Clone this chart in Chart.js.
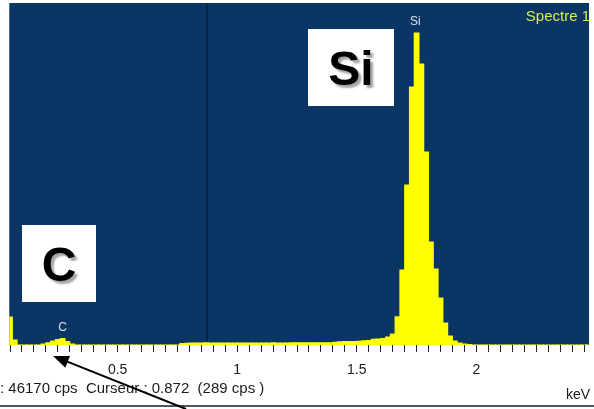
<!DOCTYPE html>
<html>
<head>
<meta charset="utf-8">
<script src="https://cdn.jsdelivr.net/npm/chart.js@4/dist/chart.umd.min.js"></script>
<style>
  html, body { margin: 0; padding: 0; background: #fff; }
  #wrap { position: relative; width: 594px; height: 409px; }
</style>
</head>
<body>
<div id="wrap"><canvas id="spectrum" width="594" height="409"></canvas></div>
<script>
// EDS spectrum, 0.02 keV channels, value = counts (cps) of the channel starting at that energy
const firstChannelKeV = 0.04;
const channelKeV = 0.02;
const counts = [
  3780, 675, 0, 0, 0, 0, 0, 135, 300, 540,            // 0.04 - 0.22
  740, 880, 470, 135, 0, 0, 0, 0, 0, 0,               // 0.24 - 0.42
  0, 0, 0, 0, 0, 0, 0, 0, 0, 0,                       // 0.44 - 0.62
  0, 0, 0, 0, 0, 0, 200, 250, 270, 260,               // 0.64 - 0.82
  280, 290, 280, 270, 260, 280, 270, 260, 270, 280,   // 0.84 - 1.02
  270, 260, 280, 270, 280, 290, 280, 270, 280, 290,   // 1.04 - 1.22
  300, 290, 300, 310, 300, 290, 300, 320, 360, 430,   // 1.24 - 1.42
  460, 470, 480, 500, 580, 620, 780, 820, 880, 1080,  // 1.44 - 1.62
  1500, 3820, 10130, 21600, 34830, 42120, 37940, 26060, 13900, 10260, // 1.64 - 1.82
  6350, 2970, 1220, 540, 270, 135, 60, 0, 0, 0,       // 1.84 - 2.02
  0, 0, 0, 0, 0, 0, 0, 0, 0, 0,                       // 2.04 - 2.22
  0, 0, 0, 0, 0, 0, 0, 0, 0, 0,                       // 2.24 - 2.42
  0, 0                                                // 2.44 - 2.46
];

const tickValues = [0.5, 1, 1.5, 2];
const tickLabels = ['0.5', '1', '1.5', '2'];
const minorTickKeV = 0.05;

const peakNames = ['C', 'Si'];
const peakKeV = [0.27, 1.745];

const spectrumName = 'Spectre 1';
const fullScaleCps = 46170;
const cursorKeV = 0.872;
const cursorCps = 289;

const xMin = 0.047;
const xMax = 2.471;

// bars sit on the channel centres
const points = counts.map((c, i) => ({ x: firstChannelKeV + (i + 0.5) * channelKeV, y: c }));

function countAt(keV) {
  const i = Math.floor((keV - firstChannelKeV) / channelKeV + 1e-9);
  return counts[i] || 0;
}

const overlay = {
  id: 'overlay',
  beforeDraw(chart) {
    const { ctx, chartArea: a } = chart;
    ctx.save();
    ctx.fillStyle = '#ffffff';
    ctx.fillRect(0, 0, chart.width, chart.height);
    ctx.fillStyle = '#0a3565';
    ctx.fillRect(a.left, a.top, a.right - a.left, a.bottom - a.top);
    // cursor line
    const cx = Math.round(chart.scales.x.getPixelForValue(cursorKeV));
    ctx.fillStyle = '#05244a';
    ctx.fillRect(cx - 1, a.top, 2, a.bottom - a.top);
    ctx.restore();
  },
  afterDraw(chart) {
    const { ctx } = chart;
    const xs = chart.scales.x, ys = chart.scales.y;
    ctx.save();

    // element labels above their peaks
    ctx.font = '12px "Liberation Sans", Arial, sans-serif';
    ctx.fillStyle = '#d8e0ee';
    ctx.textAlign = 'center';
    ctx.textBaseline = 'bottom';
    peakNames.forEach((name, i) => {
      const px = xs.getPixelForValue(peakKeV[i]);
      const py = ys.getPixelForValue(countAt(peakKeV[i])) - 5;
      ctx.fillText(name, px, py);
    });

    // spectrum name
    ctx.font = '15px "Liberation Sans", Arial, sans-serif';
    ctx.fillStyle = '#dcec50';
    ctx.textAlign = 'right';
    ctx.textBaseline = 'alphabetic';
    ctx.fillText(spectrumName, 590, 21);

    // big white label boxes
    const boxes = [
      { text: 'Si', x: 308, y: 29, w: 86, h: 77 },
      { text: 'C', x: 22, y: 225, w: 74, h: 77 }
    ];
    boxes.forEach(b => {
      ctx.fillStyle = '#ffffff';
      ctx.fillRect(b.x, b.y, b.w, b.h);
      ctx.save();
      ctx.font = 'bold 48px "Liberation Sans", Arial, sans-serif';
      ctx.textAlign = 'center';
      ctx.textBaseline = 'alphabetic';
      ctx.shadowColor = 'rgba(0,0,0,0.35)';
      ctx.shadowOffsetX = 3;
      ctx.shadowOffsetY = 3;
      ctx.shadowBlur = 2;
      ctx.fillStyle = '#000000';
      ctx.fillText(b.text, b.x + b.w / 2, b.y + b.h / 2 + 17);
      ctx.restore();
    });

    // status line
    ctx.font = '15px "Liberation Sans", Arial, sans-serif';
    ctx.fillStyle = '#1a1a1a';
    ctx.textAlign = 'left';
    ctx.textBaseline = 'alphabetic';
    ctx.fillText(': ' + fullScaleCps + ' cps  Curseur : ' + cursorKeV + '  (' + cursorCps + ' cps )', 0, 393);
    ctx.font = '14px "Liberation Sans", Arial, sans-serif';
    ctx.textAlign = 'right';
    ctx.fillText('keV', 590, 399);

    // bottom frame line
    ctx.fillStyle = '#4d5866';
    ctx.fillRect(0, 405, chart.width, 2);

    // arrow pointing at the C peak
    const tip = { x: 53, y: 356 }, tail = { x: 186, y: 409 };
    const ang = Math.atan2(tail.y - tip.y, tail.x - tip.x);
    ctx.strokeStyle = '#000000';
    ctx.fillStyle = '#000000';
    ctx.lineWidth = 2;
    ctx.beginPath();
    ctx.moveTo(tail.x, tail.y);
    ctx.lineTo(tip.x + Math.cos(ang) * 12, tip.y + Math.sin(ang) * 12);
    ctx.stroke();
    ctx.beginPath();
    ctx.moveTo(tip.x, tip.y);
    ctx.lineTo(tip.x + Math.cos(ang + 0.38) * 17, tip.y + Math.sin(ang + 0.38) * 17);
    ctx.lineTo(tip.x + Math.cos(ang - 0.38) * 17, tip.y + Math.sin(ang - 0.38) * 17);
    ctx.closePath();
    ctx.fill();

    ctx.restore();
  }
};

new Chart(document.getElementById('spectrum'), {
  type: 'bar',
  data: {
    datasets: [{
      data: points,
      backgroundColor: '#ffff00',
      borderWidth: 0,
      barPercentage: 1,
      categoryPercentage: 1,
      inflateAmount: 0.5
    }]
  },
  options: {
    responsive: false,
    animation: false,
    devicePixelRatio: 1,
    layout: { padding: { left: 7, top: 3, right: 0, bottom: 0 } },
    plugins: {
      legend: { display: false },
      tooltip: { enabled: false }
    },
    scales: {
      x: {
        type: 'linear',
        min: xMin,
        max: xMax,
        offset: false,
        afterFit(scale) { scale.height = 64; },
        afterBuildTicks(scale) {
          const t = [];
          for (let k = 1; k * minorTickKeV < xMax; k++) t.push({ value: +(k * minorTickKeV).toFixed(2) });
          scale.ticks = t;
        },
        border: { display: false },
        grid: {
          drawOnChartArea: false,
          drawTicks: true,
          tickLength: 7,
          color: '#222222',
          lineWidth: 1,
          offset: false
        },
        ticks: {
          autoSkip: false,
          maxRotation: 0,
          padding: 10,
          color: '#1a1a1a',
          font: { family: '"Liberation Sans", Arial, sans-serif', size: 14 },
          callback(value) {
            const i = tickValues.findIndex(v => Math.abs(v - value) < 1e-6);
            return i >= 0 ? tickLabels[i] : '';
          }
        }
      },
      y: {
        display: false,
        min: 0,
        max: fullScaleCps
      }
    }
  },
  plugins: [overlay]
});
</script>
</body>
</html>
